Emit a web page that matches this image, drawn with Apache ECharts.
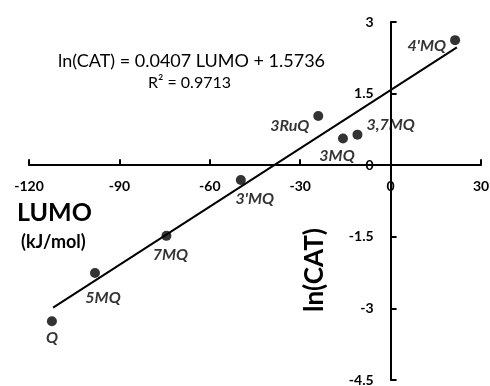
<!DOCTYPE html>
<html><head><meta charset="utf-8">
<script src="https://cdn.jsdelivr.net/npm/echarts@6/dist/echarts.min.js"></script>
<style>html,body{margin:0;padding:0;background:#fff}#c{width:490px;height:386px}</style>
</head><body><div id="c"></div>
<script>
// Data
const names = ["4'MQ", "3RuQ", "3,7MQ", "3MQ", "3'MQ", "7MQ", "5MQ", "Q"];
const lumo  = [21.4, -24.0, -11.0, -15.8, -49.7, -74.4, -98.1, -112.4];
const lncat = [2.62, 1.03, 0.64, 0.56, -0.31, -1.48, -2.26, -3.27];
const trendX = [-112, 22];
const trendY = [-2.985, 2.469];
const xTicks = [-120, -90, -60, -30, 0, 30];
const yTicks = [-4.5, -3, -1.5, 0, 1.5, 3];

const labelPlace = {
  "4'MQ": {position: 'left', offset: [0, 6]},
  "3RuQ": {position: 'left', offset: [0, 10]},
  "3,7MQ": {position: 'right', offset: [0, -10]},
  "3MQ": {position: 'bottom', offset: [-6, 0]},
  "3'MQ": {position: 'bottom', offset: [14, 2]},
  "7MQ": {position: 'bottom', offset: [4, 2]},
  "5MQ": {position: 'bottom', offset: [8, 8]},
  "Q": {position: 'bottom', offset: [0, 0]}
};

const G = {left: 29, top: 22, width: 452, height: 358};
const xMin = xTicks[0], xMax = xTicks[xTicks.length - 1];
const yMin = yTicks[0], yMax = yTicks[yTicks.length - 1];
// move axes so that they cross at the origin
const xAxisOffset = -G.height * (0 - yMin) / (yMax - yMin);
const yAxisOffset = -G.width * (0 - xMin) / (xMax - xMin);

const chart = echarts.init(document.getElementById('c'), null, {renderer: 'canvas'});
const F = 'Lato, "Open Sans", sans-serif';
const pts = names.map((n, i) => ({
  value: [lumo[i], lncat[i]],
  label: Object.assign({show: true, formatter: n, distance: 4}, labelPlace[n])
}));
chart.setOption({
  animation: false,
  grid: Object.assign({outerBoundsMode: 'none', containLabel: false}, G),
  xAxis: {
    type: 'value', min: xMin, max: xMax, interval: 30, offset: xAxisOffset,
    axisLine: {onZero: false, lineStyle: {color: '#000', width: 2}},
    axisTick: {inside: true, length: 6, lineStyle: {color: '#000', width: 2}},
    axisLabel: {color: '#000', fontFamily: F, fontWeight: 'bold', fontSize: 14, margin: 14, hideOverlap: false},
    splitLine: {show: false}
  },
  yAxis: {
    type: 'value', min: yMin, max: yMax, interval: 1.5, offset: yAxisOffset,
    axisLine: {onZero: false, lineStyle: {color: '#000', width: 2}},
    axisTick: {inside: true, length: 6, lineStyle: {color: '#000', width: 2}},
    axisLabel: {color: '#000', fontFamily: F, fontWeight: 'bold', fontSize: 14, margin: 17, hideOverlap: false},
    splitLine: {show: false}
  },
  series: [
    {
      type: 'line', data: trendX.map((x, i) => [x, trendY[i]]),
      showSymbol: false, lineStyle: {color: '#000', width: 2}, z: 2
    },
    {
      type: 'scatter', data: pts, symbolSize: 10,
      itemStyle: {color: '#000'}, z: 3,
      label: {color: '#000', fontFamily: F, fontWeight: 'bold', fontStyle: 'italic', fontSize: 16}
    }
  ],
  graphic: [
    {type: 'text', left: 58, top: 52, style: {text: 'ln(CAT) = 0.0407 LUMO + 1.5736', font: '18px ' + F, fill: '#000'}},
    {type: 'text', left: 148, top: 75, style: {text: 'R² = 0.9713', font: '16px ' + F, fill: '#000'}},
    {type: 'text', left: 17, top: 200, style: {text: 'LUMO', font: 'bold 25px ' + F, fill: '#000'}},
    {type: 'text', left: 21, top: 233, style: {text: '(kJ/mol)', font: 'bold 18px ' + F, fill: '#000'}},
    {type: 'text', x: 302, y: 312, rotation: Math.PI / 2, style: {text: 'ln(CAT)', font: 'bold 26px ' + F, fill: '#000'}}
  ]
});
</script></body></html>
